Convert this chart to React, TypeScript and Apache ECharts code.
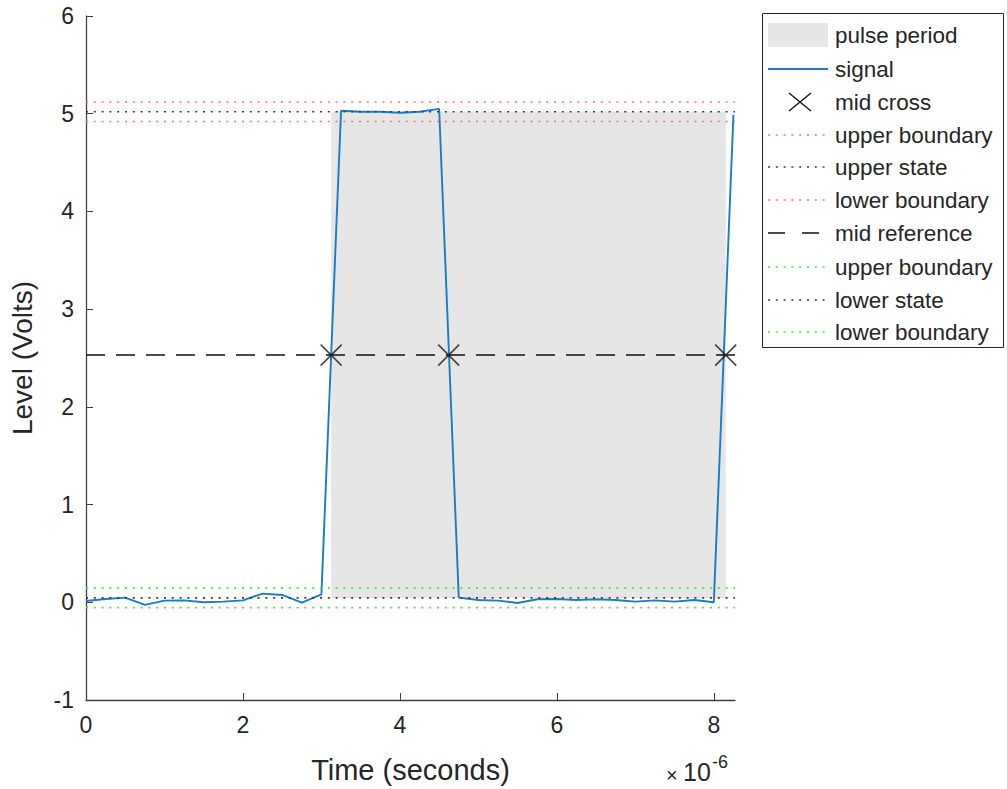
import React, { useEffect, useRef } from "react";
import * as echarts from "echarts";

// Time in microseconds (axis shows x10^-6 seconds)
const timeUs = [
  0, 0.25, 0.5, 0.75, 1.0, 1.25, 1.5, 1.75, 2.0, 2.25, 2.5, 2.75, 3.0,
  3.25, 3.5, 3.75, 4.0, 4.25, 4.5,
  4.75, 5.0, 5.25, 5.5, 5.75, 6.0, 6.25, 6.5, 6.75, 7.0, 7.25, 7.5, 7.75, 8.0,
  8.25,
];
const signalV = [
  0.013, 0.034, 0.048, -0.027, 0.017, 0.02, 0.0, 0.007, 0.02, 0.089, 0.075, -0.003, 0.082,
  5.03, 5.02, 5.02, 5.01, 5.02, 5.05,
  0.048, 0.024, 0.017, -0.007, 0.031, 0.034, 0.024, 0.031, 0.024, 0.007, 0.02, 0.007, 0.024, 0.0,
  4.99,
];
const crossTimeUs = [3.124, 4.622, 8.152];
const midReference = 2.53;
const upperState = 5.02;
const upperBoundaryHi = 5.12;
const upperBoundaryLo = 4.92;
const lowerState = 0.045;
const lowerBoundaryHi = 0.145;
const lowerBoundaryLo = -0.055;
const xTicks = [0, 2, 4, 6, 8];
const xMin = 0;
const xMax = 8.27;
const yMin = -1;
const yMax = 6;

const legendNames = [
  "pulse period",
  "signal",
  "mid cross",
  "upper boundary",
  "upper state",
  "lower boundary",
  "mid reference",
  "upper boundary",
  "lower state",
  "lower boundary",
];

const FONT = '"Liberation Sans", Arial, Helvetica, sans-serif';
const TXT = "#262626";
const RED = "#ff6b6b";
const GREEN = "#3ce83c";
const DARK = "#3a3a3a";
const BLUE = "#1a7cc4";
const GRAY = "#e6e6e6";
const DOT = [2, 5.8];
const DASH = [19, 11];

function hLine(name: string, v: number, color: string, dash: number[], z: number) {
  return {
    name,
    type: "line",
    data: [
      [xMin, v],
      [xMax, v],
    ],
    symbol: "none",
    silent: true,
    z,
    lineStyle: { color, width: 1.6, type: dash },
  };
}

export default function App() {
  const ref = useRef<HTMLDivElement>(null);
  useEffect(() => {
    if (!ref.current) return;
    const chart = echarts.init(ref.current, null, { renderer: "svg" });

    const legendStyles: any[] = [
      { kind: "patch" },
      { kind: "line", color: BLUE, dash: null, width: 1.8 },
      { kind: "cross" },
      { kind: "line", color: RED, dash: DOT, width: 1.6 },
      { kind: "line", color: DARK, dash: DOT, width: 1.6 },
      { kind: "line", color: RED, dash: DOT, width: 1.6 },
      { kind: "line", color: "#111", dash: [17, 17], width: 1.5 },
      { kind: "line", color: GREEN, dash: DOT, width: 1.6 },
      { kind: "line", color: DARK, dash: DOT, width: 1.6 },
      { kind: "line", color: GREEN, dash: DOT, width: 1.6 },
    ];
    const rowY = [35, 69, 102, 135, 167, 200, 233, 267, 300, 332];
    const legendChildren: any[] = [
      {
        type: "rect",
        shape: { x: 762.5, y: 13.5, width: 241, height: 334 },
        style: { fill: "#fff", stroke: "#262626", lineWidth: 1 },
      },
    ];
    legendNames.forEach((n, i) => {
      const y = rowY[i];
      const s = legendStyles[i];
      if (s.kind === "patch") {
        legendChildren.push({
          type: "rect",
          shape: { x: 768, y: y - 12, width: 60, height: 24 },
          style: { fill: GRAY },
        });
      } else if (s.kind === "cross") {
        legendChildren.push({
          type: "line",
          shape: { x1: 789, y1: y - 9, x2: 811, y2: y + 9 },
          style: { stroke: "#1a1a1a", lineWidth: 1.5 },
        });
        legendChildren.push({
          type: "line",
          shape: { x1: 789, y1: y + 9, x2: 811, y2: y - 9 },
          style: { stroke: "#1a1a1a", lineWidth: 1.5 },
        });
      } else {
        legendChildren.push({
          type: "line",
          shape: { x1: 768, y1: y, x2: 828, y2: y },
          style: { stroke: s.color, lineWidth: s.width, lineDash: s.dash || undefined },
        });
      }
      legendChildren.push({
        type: "text",
        x: 835,
        y,
        style: {
          text: n,
          fontSize: 22.5,
          fontFamily: FONT,
          fill: TXT,
          verticalAlign: "middle",
          align: "left",
        },
      });
    });

    const option: any = {
      animation: false,
      backgroundColor: "#fff",
      grid: { left: 84, top: 16, right: 1007 - 735, bottom: 789 - 702, containLabel: false },
      xAxis: {
        type: "value",
        min: xMin,
        max: xMax,
        name: "Time (seconds)",
        nameLocation: "middle",
        nameGap: 55,
        nameTextStyle: { fontSize: 29, fontFamily: FONT, color: TXT },
        axisLine: { show: true, onZero: false, lineStyle: { color: "#404040", width: 1.3 } },
        axisTick: { show: true, inside: true, length: 7, customValues: xTicks, lineStyle: { color: "#404040" } },
        axisLabel: { customValues: xTicks, fontSize: 23, fontFamily: FONT, color: TXT, margin: 13 },
        splitLine: { show: false },
      },
      yAxis: {
        type: "value",
        min: yMin,
        max: yMax,
        interval: 1,
        name: "Level (Volts)",
        nameLocation: "middle",
        nameGap: 50,
        nameTextStyle: { fontSize: 28, fontFamily: FONT, color: TXT },
        axisLine: { show: true, onZero: false, lineStyle: { color: "#404040", width: 1.3 } },
        axisTick: { show: true, inside: true, length: 7, lineStyle: { color: "#404040" } },
        axisLabel: { fontSize: 23, fontFamily: FONT, color: TXT, margin: 12 },
        splitLine: { show: false },
      },
      series: [
        {
          name: "pulse period",
          type: "line",
          data: [
            [crossTimeUs[0], lowerState],
            [crossTimeUs[crossTimeUs.length - 1], lowerState],
          ],
          symbol: "none",
          lineStyle: { opacity: 0 },
          silent: true,
          z: 1,
          markArea: {
            silent: true,
            itemStyle: { color: GRAY },
            data: [
              [
                { coord: [crossTimeUs[0], lowerState] },
                { coord: [crossTimeUs[crossTimeUs.length - 1], upperState] },
              ],
            ],
          },
        },
        {
          name: "signal",
          type: "line",
          data: timeUs.map((t, i) => [t, signalV[i]]),
          symbol: "none",
          z: 2,
          lineStyle: { color: BLUE, width: 1.9 },
        },
        hLine("upper boundary", upperBoundaryHi, RED, DOT, 3),
        hLine("upper state", upperState, DARK, DOT, 3),
        hLine("lower boundary", upperBoundaryLo, RED, DOT, 3),
        hLine("mid reference", midReference, "#111", DASH, 3),
        hLine("upper boundary", lowerBoundaryHi, GREEN, DOT, 3),
        hLine("lower state", lowerState, DARK, DOT, 3),
        hLine("lower boundary", lowerBoundaryLo, GREEN, DOT, 3),
        {
          name: "mid cross",
          type: "scatter",
          data: crossTimeUs.map((t) => [t, midReference]),
          symbol: "path://M0,0L10,10M10,0L0,10",
          symbolSize: 21,
          z: 5,
          itemStyle: { color: "rgba(0,0,0,0)", borderColor: "#1a1a1a", borderWidth: 1.6 },
        },
      ],
      graphic: [
        ...legendChildren,
        {
          type: "text",
          x: 666,
          y: 775,
          style: { text: "×", fontSize: 20, fontFamily: FONT, fill: TXT, verticalAlign: "middle", align: "left" },
        },
        {
          type: "text",
          x: 683,
          y: 772,
          style: { text: "10", fontSize: 25, fontFamily: FONT, fill: TXT, verticalAlign: "middle", align: "left" },
        },
        {
          type: "text",
          x: 712,
          y: 762,
          style: { text: "-6", fontSize: 18, fontFamily: FONT, fill: TXT, verticalAlign: "middle", align: "left" },
        },
      ],
    };
    chart.setOption(option);
    return () => chart.dispose();
  }, []);
  return (
    <div
      ref={ref}
      style={{ position: "fixed", left: 0, top: 0, width: 1007, height: 789, background: "#fff" }}
    />
  );
}
